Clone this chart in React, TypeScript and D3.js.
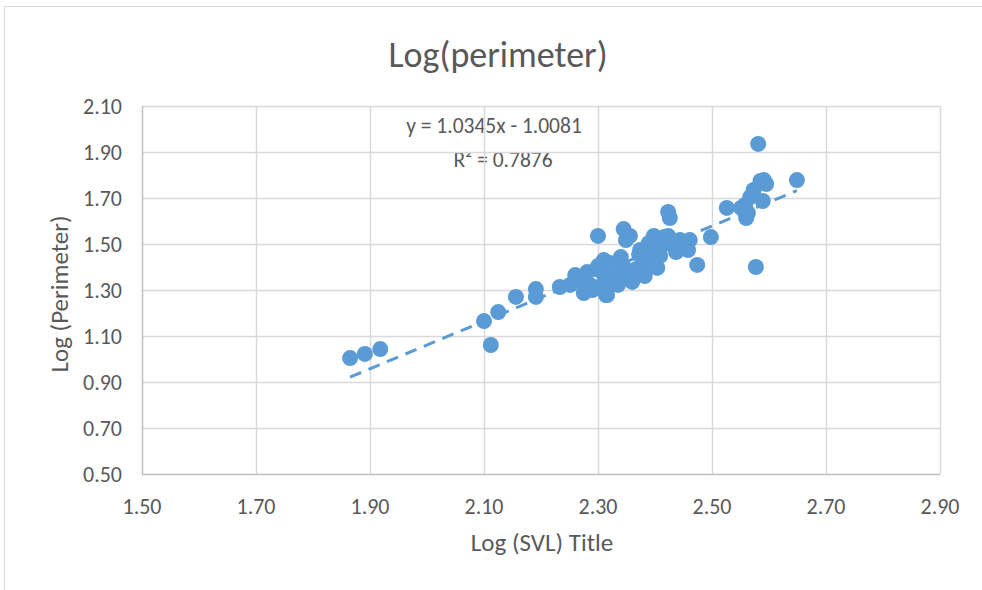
import { useRef, useEffect } from 'react';
import * as d3 from 'd3';

// Data
const svlLog = [
  1.865, 1.891, 1.918, 2.100, 2.112, 2.125, 2.156, 2.191, 2.191, 2.233,
  2.251, 2.260, 2.274, 2.275, 2.286, 2.281, 2.300, 2.300, 2.304, 2.309,
  2.314, 2.316, 2.323, 2.326, 2.335, 2.344, 2.340, 2.345, 2.349, 2.353,
  2.360, 2.367, 2.356, 2.374, 2.377, 2.382, 2.386, 2.389, 2.398, 2.404,
  2.410, 2.416, 2.409, 2.423, 2.426, 2.423, 2.430, 2.437, 2.444, 2.449,
  2.458, 2.461, 2.474, 2.498, 2.526, 2.551, 2.558, 2.560, 2.567, 2.563,
  2.573, 2.581, 2.577, 2.585, 2.591, 2.595, 2.589, 2.649, 2.310, 2.330,
  2.290, 2.265, 2.395, 2.440, 2.345, 2.318, 2.372, 2.450,
];
const perimeterLog = [
  1.004, 1.022, 1.043, 1.165, 1.061, 1.204, 1.270, 1.304, 1.270, 1.313,
  1.322, 1.365, 1.357, 1.287, 1.322, 1.378, 1.535, 1.404, 1.383, 1.326,
  1.278, 1.278, 1.413, 1.352, 1.322, 1.383, 1.443, 1.565, 1.517, 1.357,
  1.335, 1.391, 1.535, 1.474, 1.374, 1.361, 1.422, 1.504, 1.535, 1.396,
  1.487, 1.530, 1.448, 1.639, 1.613, 1.535, 1.496, 1.465, 1.517, 1.496,
  1.474, 1.517, 1.409, 1.530, 1.657, 1.657, 1.670, 1.613, 1.704, 1.635,
  1.735, 1.935, 1.400, 1.774, 1.778, 1.761, 1.687, 1.778, 1.430, 1.330,
  1.300, 1.340, 1.440, 1.480, 1.400, 1.420, 1.455, 1.500,
];
const xTicks = [1.5, 1.7, 1.9, 2.1, 2.3, 2.5, 2.7, 2.9];
const yTicks = [0.5, 0.7, 0.9, 1.1, 1.3, 1.5, 1.7, 1.9, 2.1];
const slope = 1.0345;
const intercept = -1.0081;
const rSquared = 0.7876;

const W = 982;
const H = 590;
const font = 'Carlito, Calibri, Lato, sans-serif';

export default function App() {
  const ref = useRef<SVGSVGElement>(null);

  useEffect(() => {
    const svg = d3.select(ref.current);
    svg.selectAll('*').remove();

    const x = d3.scaleLinear().domain([1.5, 2.9]).range([142, 940]);
    const y = d3.scaleLinear().domain([0.5, 2.1]).range([474, 106]);
    const grey = '#595959';

    // chart frame
    svg.append('rect')
      .attr('x', 4.5).attr('y', 6.5)
      .attr('width', W + 10).attr('height', H + 10)
      .attr('fill', '#fff').attr('stroke', '#d9d9d9');

    // title
    svg.append('text')
      .attr('x', 498).attr('y', 67)
      .attr('text-anchor', 'middle')
      .attr('font-family', font).attr('font-size', 36)
      .attr('fill', grey)
      .text('Log(perimeter)');

    // trendline label (sits under the gridlines, R² partly hidden)
    svg.append('text')
      .attr('x', 494).attr('y', 133)
      .attr('text-anchor', 'middle')
      .attr('font-family', font).attr('font-size', 21.5)
      .attr('fill', grey)
      .text(`y = ${slope}x - ${Math.abs(intercept)}`);
    svg.append('clipPath').attr('id', 'r2clip')
      .append('rect').attr('x', 400).attr('y', 153).attr('width', 200).attr('height', 40);
    svg.append('text')
      .attr('x', 503).attr('y', 167)
      .attr('text-anchor', 'middle')
      .attr('clip-path', 'url(#r2clip)')
      .attr('font-family', font).attr('font-size', 21.5)
      .attr('fill', grey)
      .text(`R² = ${rSquared}`);

    // gridlines
    svg.append('g').selectAll('line')
      .data(yTicks.slice(1)).join('line')
      .attr('x1', x(1.5)).attr('x2', x(2.9))
      .attr('y1', d => Math.round(y(d)) + 0.5).attr('y2', d => Math.round(y(d)) + 0.5)
      .attr('stroke', '#d9d9d9').attr('stroke-width', 1.5);
    svg.append('g').selectAll('line')
      .data(xTicks.slice(1)).join('line')
      .attr('y1', y(0.5)).attr('y2', y(2.1))
      .attr('x1', d => Math.round(x(d)) + 0.5).attr('x2', d => Math.round(x(d)) + 0.5)
      .attr('stroke', '#d9d9d9').attr('stroke-width', 1.5);

    // axis lines
    svg.append('line')
      .attr('x1', x(1.5)).attr('x2', x(2.9))
      .attr('y1', y(0.5) + 0.5).attr('y2', y(0.5) + 0.5)
      .attr('stroke', '#bfbfbf').attr('stroke-width', 1.5);
    svg.append('line')
      .attr('x1', x(1.5) + 0.5).attr('x2', x(1.5) + 0.5)
      .attr('y1', y(0.5)).attr('y2', y(2.1))
      .attr('stroke', '#bfbfbf').attr('stroke-width', 1.5);

    // tick labels
    svg.append('g').selectAll('text')
      .data(yTicks).join('text')
      .attr('x', 122).attr('y', d => y(d) + 8)
      .attr('text-anchor', 'end')
      .attr('font-family', font).attr('font-size', 22)
      .attr('fill', grey)
      .text(d => d.toFixed(2));
    svg.append('g').selectAll('text')
      .data(xTicks).join('text')
      .attr('x', d => x(d)).attr('y', 514)
      .attr('text-anchor', 'middle')
      .attr('font-family', font).attr('font-size', 22)
      .attr('fill', grey)
      .text(d => d.toFixed(2));

    // axis titles
    svg.append('text')
      .attr('x', 542).attr('y', 551)
      .attr('text-anchor', 'middle')
      .attr('font-family', font).attr('font-size', 25)
      .attr('fill', grey)
      .text('Log (SVL) Title');
    svg.append('text')
      .attr('transform', 'translate(68,294) rotate(-90)')
      .attr('text-anchor', 'middle')
      .attr('font-family', font).attr('font-size', 25)
      .attr('fill', grey)
      .text('Log (Perimeter)');

    // points
    const pts = svlLog.map((v, i) => [v, perimeterLog[i]]);
    svg.append('g').selectAll('circle')
      .data(pts).join('circle')
      .attr('cx', d => x(d[0])).attr('cy', d => y(d[1]))
      .attr('r', 8)
      .attr('fill', '#5b9bd5');

    // trend line
    const [x0, x1] = d3.extent(svlLog) as [number, number];
    svg.append('line')
      .attr('x1', x(x0)).attr('y1', y(slope * x0 + intercept))
      .attr('x2', x(x1)).attr('y2', y(slope * x1 + intercept))
      .attr('stroke', '#5b9bd5').attr('stroke-width', 3)
      .attr('stroke-dasharray', '12,8');
  }, []);

  return (
    <svg
      ref={ref}
      width={W}
      height={H}
      style={{ position: 'absolute', left: 0, top: 0, background: '#fff' }}
    />
  );
}
